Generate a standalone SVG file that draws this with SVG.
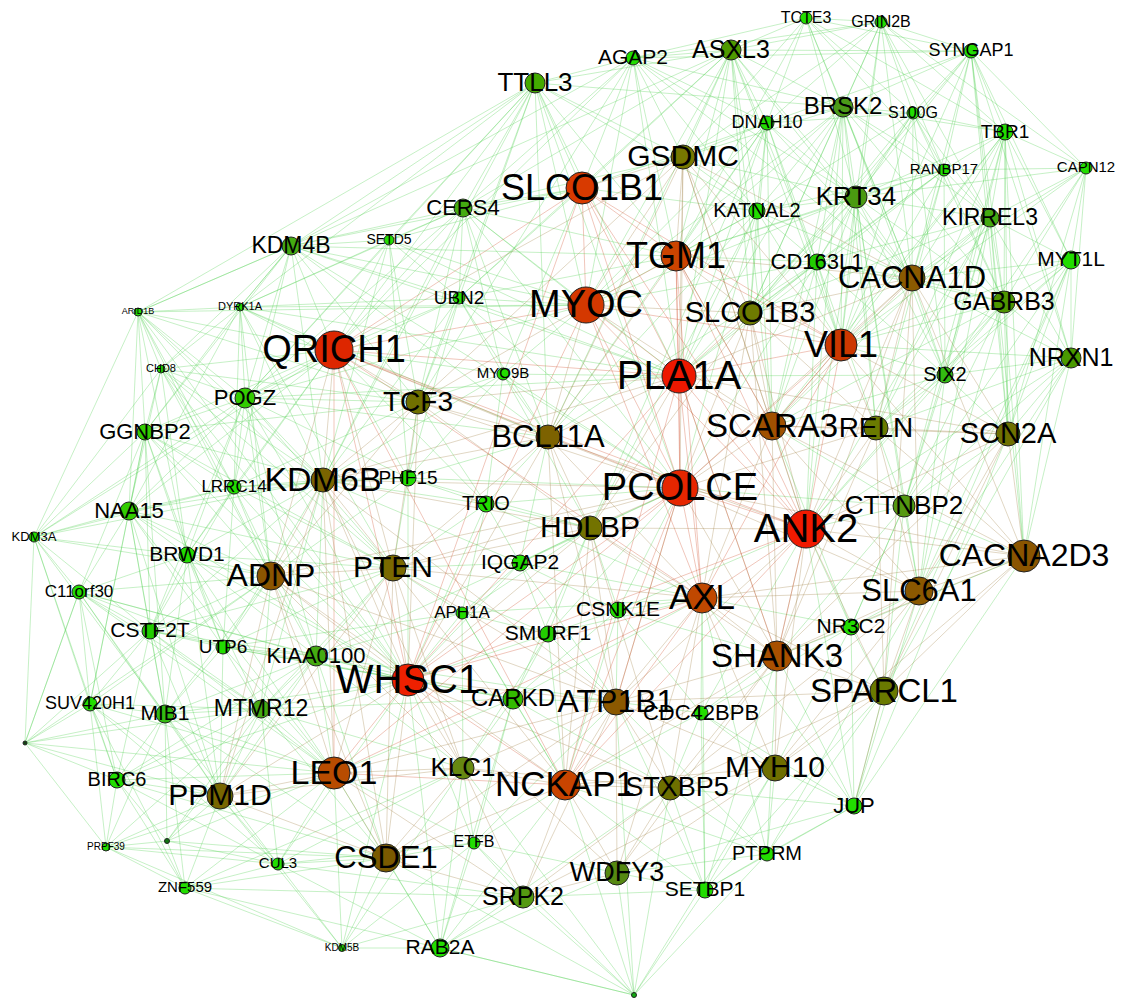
<svg xmlns="http://www.w3.org/2000/svg" width="1122" height="998" viewBox="0 0 1122 998">
<style>
.eg{fill:none;stroke:#4cd04c;stroke-opacity:.4;stroke-width:.8}
.eb{fill:none;stroke:#9a7a3a;stroke-opacity:.38;stroke-width:.8}
.er{fill:none;stroke:#d04a2a;stroke-opacity:.4;stroke-width:.8}
circle{stroke:#222;stroke-width:1}
text{font-family:"Liberation Sans",Arial,sans-serif;fill:#000;text-anchor:middle}
</style>
<rect width="1122" height="998" fill="#fff"/>
<g id="connectors">
<path class="eg" d="M881,22L806,18L731,50M971,51L806,18L843,107M767,123L806,18L1005,132M856,197L806,18L683,157M944,170L806,18L913,113M912,278L806,18L676,256M633,58L806,18
M971,51L881,22L731,50M843,107L881,22L913,113M1005,132L881,22L856,197M944,170L881,22L1086,168M912,278L881,22L841,345M750,313L881,22L683,157M990,218L881,22L767,123M633,58L881,22
M1005,132L971,51L913,113M843,107L971,51L990,218M1086,168L971,51L1071,260M944,170L971,51L856,197M1004,302L971,51L912,278M1071,358L971,51L1008,434M731,50L971,51L841,345M750,313L971,51L767,123
M535,83L633,58L731,50M683,157L633,58L582,188M676,256L633,58L586,305M843,107L633,58L767,123M757,211L633,58L463,208M856,197L633,58L912,278M971,51L633,58L291,246M334,350L633,58L679,376M418,402L633,58
M683,157L731,50L843,107M767,123L731,50L535,83M582,188L731,50L676,256M856,197L731,50L757,211M586,305L731,50L463,208M750,313L731,50L679,376M841,345L731,50L912,278M817,262L731,50L772,426M548,437L731,50L459,298M291,246L731,50
M463,208L535,83L582,188M683,157L535,83L586,305M676,256L535,83L291,246M334,350L535,83L389,240M459,298L535,83L418,402M679,376L535,83L548,437M240,307L535,83L138,312M245,398L535,83L757,211M843,107L535,83L680,488M323,480L535,83
M767,123L843,107L913,113M1005,132L843,107L856,197M757,211L843,107L683,157M676,256L843,107L817,262M912,278L843,107L750,313M841,345L843,107L944,170M990,218L843,107L1004,302M679,376L843,107L772,426M876,428L843,107L945,375M586,305L843,107L806,529
M1005,132L913,113L944,170M856,197L913,113L990,218M912,278L913,113L767,123M757,211L913,113L841,345M1004,302L913,113L817,262M750,313L913,113L945,375
M683,157L767,123L757,211M676,256L767,123L582,188M856,197L767,123L817,262M750,313L767,123L586,305M679,376L767,123L841,345M912,278L767,123L772,426M548,437L767,123L590,528
M944,170L1005,132L1086,168M990,218L1005,132L1071,260M856,197L1005,132L912,278M1004,302L1005,132L1071,358M945,375L1005,132L841,345M1008,434L1005,132L876,428M904,506L1005,132L772,426M1024,556L1005,132
M990,218L1086,168L1071,260M1004,302L1086,168L1071,358M944,170L1086,168L912,278M945,375L1086,168L1008,434M841,345L1086,168L856,197
M856,197L944,170L990,218M912,278L944,170L817,262M841,345L944,170L750,313M1004,302L944,170L945,375M676,256L944,170L757,211M679,376L944,170L876,428
M683,157L757,211L676,256M582,188L757,211L856,197M817,262L757,211L750,313M586,305L757,211L679,376M841,345L757,211L912,278M772,426L757,211L548,437M590,528L757,211L680,488
M817,262L856,197L912,278M990,218L856,197L676,256M683,157L856,197L750,313M841,345L856,197L1004,302M945,375L856,197L679,376M772,426L856,197L876,428M806,529L856,197L586,305M904,506L856,197L919,591
M1071,260L990,218L912,278M1004,302L990,218L1071,358M945,375L990,218L841,345M1008,434L990,218L876,428M817,262L990,218L750,313M904,506L990,218L1024,556M772,426L990,218L806,529M919,591L990,218
M1004,302L1071,260L1071,358M912,278L1071,260L945,375M1008,434L1071,260L841,345M876,428L1071,260L1024,556M904,506L1071,260L919,591M884,691L1071,260
M912,278L817,262L750,313M676,256L817,262L841,345M679,376L817,262L1004,302M945,375L817,262L772,426M876,428L817,262L806,529M680,488L817,262L548,437M586,305L817,262
M291,246L389,240L463,208M334,350L389,240L459,298M418,402L389,240L582,188M586,305L389,240L240,307M245,398L389,240L323,480M408,478L389,240L679,376
M582,188L463,208L291,246M334,350L463,208L459,298M586,305L463,208L676,256M418,402L463,208L548,437M679,376L463,208L323,480M245,398L463,208L240,307M680,488L463,208L503,374M683,157L463,208
M334,350L291,246L240,307M138,312L291,246L161,369M245,398L291,246L459,298M418,402L291,246L323,480M586,305L291,246L582,188M145,432L291,246L234,487M679,376L291,246L680,488M548,437L291,246L676,256
M240,307L138,312L161,369M245,398L138,312L145,432M334,350L138,312L291,246M234,487L138,312L129,511M323,480L138,312L418,402M34,537L138,312L271,576M393,568L138,312L408,680M187,555L138,312L586,305
M161,369L240,307L245,398M334,350L240,307L145,432M323,480L240,307L418,402M234,487L240,307L271,576M393,568L240,307L586,305M679,376L240,307L548,437M459,298L240,307L129,511M291,246L240,307
M334,350L459,298L586,305M582,188L459,298L418,402M503,374L459,298L548,437M679,376L459,298L676,256M323,480L459,298L245,398M680,488L459,298L408,478
M245,398L161,369L145,432M334,350L161,369L129,511M234,487L161,369L323,480M271,576L161,369L187,555M393,568L161,369L418,402M34,537L161,369L408,680
M418,402L503,374L548,437M679,376L503,374L586,305M334,350L503,374L408,478M486,504L503,374L590,528M680,488L503,374L323,480M582,188L503,374
M334,350L245,398L145,432M234,487L245,398L323,480M129,511L245,398L418,402M271,576L245,398L187,555M393,568L245,398L408,680M408,478L245,398L586,305M679,376L245,398L548,437M316,656L245,398L150,631M34,537L245,398
M129,511L145,432L234,487M34,537L145,432L187,555M334,350L145,432L323,480M271,576L145,432L79,592M150,631L145,432L393,568M418,402L145,432L408,680M223,647L145,432L165,714M90,704L145,432
M323,480L234,487L129,511M187,555L234,487L271,576M334,350L234,487L418,402M393,568L234,487L223,647M150,631L234,487L316,656M408,680L234,487L408,478
M34,537L129,511L187,555M79,592L129,511L150,631M271,576L129,511L323,480M334,350L129,511L223,647M165,714L129,511L90,704M393,568L129,511L408,680M334,773L129,511L220,796
M79,592L34,537L187,555M90,704L34,537L150,631M165,714L34,537L25,743M271,576L34,537L117,780M323,480L34,537L334,350M234,487L34,537
M271,576L187,555L79,592M150,631L187,555L223,647M323,480L187,555L393,568M408,680L187,555L165,714M261,709L187,555L316,656M334,350L187,555L334,773M220,796L187,555
M150,631L79,592L90,704M165,714L79,592L223,647M271,576L79,592L117,780M220,796L79,592L25,743M316,656L79,592L408,680M261,709L79,592L334,773
M223,647L150,631L165,714M271,576L150,631L261,709M90,704L150,631L117,780M220,796L150,631L316,656M408,680L150,631L334,773M323,480L150,631L393,568
M271,576L223,647L165,714M261,709L223,647L316,656M220,796L223,647L408,680M334,773L223,647L393,568M323,480L223,647L462,613M513,699L223,647
M165,714L90,704L117,780M25,743L90,704L220,796M261,709L90,704L106,847M271,576L90,704L334,773M278,864L90,704L185,888
M261,709L165,714L117,780M220,796L165,714L271,576M334,773L165,714L316,656M408,680L165,714L278,864M185,888L165,714L167,841M106,847L165,714L386,858
M117,780L25,743L165,714M220,796L25,743L261,709M106,847L25,743L150,631M79,592L25,743L334,773M271,576L25,743
M220,796L117,780L106,847M167,841L117,780L185,888M278,864L117,780L261,709M334,773L117,780L408,680M386,858L117,780L316,656
M220,796L106,847L167,841M185,888L106,847L278,864M261,709L106,847L334,773M342,948L106,847L386,858
M220,796L167,841L185,888M278,864L167,841L334,773M261,709L167,841L316,656M386,858L167,841
M220,796L185,888L278,864M386,858L185,888L334,773M342,948L185,888L440,948M463,768L185,888L523,897
M220,796L278,864L386,858M334,773L278,864L342,948M463,768L278,864L440,948M261,709L278,864L408,680M523,897L278,864L474,843
M386,858L342,948L440,948M334,773L342,948L463,768M523,897L342,948L474,843M220,796L342,948L408,680
M386,858L440,948L523,897M474,843L440,948L463,768M565,785L440,948L334,773M617,873L440,948L670,788M408,680L440,948L513,699M634,995L440,948
M386,858L474,843L523,897M463,768L474,843L565,785M334,773L474,843L408,680M617,873L474,843L513,699M616,702L474,843
M440,948L634,995L523,897M617,873L634,995L705,890M767,854L634,995L565,785M670,788L634,995L474,843M463,768L634,995L775,768M386,858L634,995L616,702
M617,873L705,890L670,788M767,854L705,890L775,768M565,785L705,890L523,897M854,806L705,890L616,702M777,656L705,890L884,691M702,598L705,890L701,713
M775,768L767,854L854,806M670,788L767,854L617,873M884,691L767,854L777,656M616,702L767,854L565,785M702,598L767,854L919,591
M775,768L854,806L884,691M777,656L854,806L670,788M851,627L854,806L919,591M806,529L854,806L702,598M1024,556L854,806L617,873M701,713L854,806L1008,434
M316,656L261,709L271,576M220,796L261,709L334,773M408,680L261,709L393,568M463,768L261,709L386,858M323,480L261,709L513,699
M271,576L316,656L393,568M408,680L316,656L334,773M323,480L316,656L462,613M513,699L316,656L463,768M386,858L316,656L220,796M680,488L316,656L616,702
M393,568L462,613L408,680M520,563L462,613L548,634M513,699L462,613L463,768M590,528L462,613L486,504M565,785L462,613L702,598
M590,528L520,563L680,488M486,504L520,563L548,437M393,568L520,563L548,634M618,610L520,563L702,598M616,702L520,563L408,680M323,480L520,563
M548,437L486,504L590,528M408,478L486,504L418,402M393,568L486,504L680,488M323,480L486,504L334,350M702,598L486,504L408,680
M323,480L408,478L418,402M393,568L408,478L334,350M271,576L408,478L548,437M408,680L408,478L680,488M590,528L408,478
M702,598L618,610L590,528M548,634L618,610L616,702M680,488L618,610L777,656M565,785L618,610L513,699M806,529L618,610L701,713
M513,699L548,634L616,702M590,528L548,634L702,598M408,680L548,634L565,785M463,768L548,634L393,568M680,488L548,634
M616,702L513,699L408,680M463,768L513,699L565,785M590,528L513,699L702,598M670,788L513,699L334,773
M616,702L701,713L702,598M777,656L701,713L670,788M775,768L701,713L565,785M806,529L701,713L851,627
M919,591L851,627L777,656M884,691L851,627L806,529M702,598L851,627L1024,556M775,768L851,627L904,506M772,426L851,627
M841,345L945,375L1004,302M1071,358L945,375L1008,434M876,428L945,375L912,278M772,426L945,375L904,506M806,529L945,375L919,591M679,376L945,375
M912,278L1004,302L1071,358M1008,434L1004,302L841,345M876,428L1004,302L1024,556M904,506L1004,302L919,591M806,529L1004,302L772,426
M1008,434L1071,358L1024,556M912,278L1071,358L876,428M841,345L1071,358L919,591M904,506L1071,358L884,691M806,529L1071,358
M806,529L904,506L1008,434M1024,556L904,506L919,591M876,428L904,506L772,426M777,656L904,506L884,691M851,627L904,506L680,488"/>
<path class="eb" d="M582,188L683,157L676,256M586,305L683,157L679,376M750,313L683,157L841,345M912,278L683,157L772,426M548,437L683,157L680,488M806,529L683,157L334,350M418,402L683,157
M676,256L750,313L679,376M841,345L750,313L912,278M772,426L750,313L876,428M806,529L750,313L680,488M586,305L750,313L702,598M777,656L750,313L590,528
M841,345L912,278L772,426M876,428L912,278L1008,434M806,529L912,278L1024,556M919,591L912,278L679,376M676,256L912,278L680,488M884,691L912,278L777,656
M334,350L418,402L586,305M679,376L418,402L548,437M323,480L418,402L393,568M680,488L418,402L408,680M271,576L418,402L590,528
M679,376L548,437L680,488M590,528L548,437L586,305M323,480L548,437L393,568M702,598L548,437L408,680M806,529L548,437L334,350M676,256L548,437L616,702M565,785L548,437
M334,350L323,480L271,576M393,568L323,480L408,680M334,773L323,480L680,488M679,376L323,480L590,528M616,702L323,480L220,796M463,768L323,480L386,858
M393,568L271,576L408,680M334,773L271,576L220,796M386,858L271,576L463,768M334,350L271,576L616,702M565,785L271,576L680,488
M408,680L393,568L334,773M590,528L393,568L680,488M702,598L393,568L616,702M463,768L393,568L565,785M334,350L393,568L386,858M220,796L393,568
M680,488L590,528L702,598M806,529L590,528L616,702M565,785L590,528L408,680M679,376L590,528L777,656M670,788L590,528
M679,376L772,426L841,345M806,529L772,426L680,488M876,428L772,426L1008,434M1024,556L772,426L919,591M777,656L772,426L702,598M676,256L772,426L586,305
M841,345L876,428L806,529M1008,434L876,428L1024,556M919,591L876,428L884,691M777,656L876,428L680,488
M806,529L1008,434L1024,556M919,591L1008,434L884,691M777,656L1008,434L841,345M679,376L1008,434
M806,529L1024,556L919,591M884,691L1024,556L777,656M775,768L1024,556L702,598M680,488L1024,556L841,345
M806,529L919,591L777,656M884,691L919,591L775,768M702,598L919,591L680,488M670,788L919,591
M806,529L777,656L702,598M616,702L777,656L775,768M670,788L777,656L565,785M884,691L777,656L680,488M617,873L777,656L679,376
M806,529L884,691L775,768M670,788L884,691L702,598M854,806L884,691L616,702
M670,788L775,768L565,785M616,702L775,768L702,598M806,529L775,768L617,873M523,897L775,768
M565,785L670,788L616,702M617,873L670,788L523,897M702,598L670,788L408,680M463,768L670,788
M565,785L616,702L702,598M408,680L616,702L463,768M680,488L616,702L806,529M334,773L616,702L617,873M523,897L616,702L386,858
M408,680L463,768L334,773M565,785L463,768L386,858M523,897L463,768L220,796
M334,773L220,796L386,858M408,680L220,796
M334,773L386,858L408,680M565,785L386,858L523,897
M565,785L617,873L523,897M702,598L617,873L408,680
M565,785L523,897L334,773"/>
<path class="er" d="M586,305L582,188L676,256M679,376L582,188L334,350M680,488L582,188L841,345M806,529L582,188L408,680
M586,305L676,256L679,376M841,345L676,256L680,488M806,529L676,256L702,598M772,426L676,256
M679,376L586,305L334,350M680,488L586,305L806,529M408,680L586,305L841,345M702,598L586,305
M679,376L334,350L680,488M408,680L334,350L806,529M334,773L334,350L702,598M565,785L334,350
M680,488L679,376L806,529M841,345L679,376L408,680M702,598L679,376L565,785M777,656L679,376
M806,529L841,345L680,488M702,598L841,345L772,426
M806,529L680,488L408,680M702,598L680,488L565,785M334,773L680,488L616,702
M702,598L806,529L408,680M565,785L806,529L777,656
M334,773L408,680L565,785M702,598L408,680
M565,785L702,598L334,773M334,773L565,785"/>
</g>
<g id="nodes">
<g id="n-TCTE3"><circle cx="806" cy="18" r="6" fill="#22dd00"/><text x="806" y="23" font-size="16">TCTE3</text></g>
<g id="n-GRIN2B"><circle cx="881" cy="22" r="6" fill="#22dd00"/><text x="881" y="27" font-size="16">GRIN2B</text></g>
<g id="n-SYNGAP1"><circle cx="971" cy="51" r="7" fill="#22dd00"/><text x="971" y="56" font-size="18">SYNGAP1</text></g>
<g id="n-AGAP2"><circle cx="633" cy="58" r="7" fill="#22dd00"/><text x="633" y="64" font-size="21">AGAP2</text></g>
<g id="n-ASXL3"><circle cx="731" cy="50" r="10" fill="#4f9a00"/><text x="731" y="58" font-size="25">ASXL3</text></g>
<g id="n-TTLL3"><circle cx="535" cy="83" r="10" fill="#44aa00"/><text x="535" y="91" font-size="26">TTLL3</text></g>
<g id="n-BRSK2"><circle cx="843" cy="107" r="10" fill="#4b9a18"/><text x="843" y="114" font-size="24">BRSK2</text></g>
<g id="n-S100G"><circle cx="913" cy="113" r="6" fill="#22dd00"/><text x="913" y="118" font-size="16">S100G</text></g>
<g id="n-DNAH10"><circle cx="767" cy="123" r="7" fill="#22dd00"/><text x="767" y="128" font-size="18">DNAH10</text></g>
<g id="n-TBR1"><circle cx="1005" cy="132" r="8" fill="#22dd00"/><text x="1005" y="138" font-size="19">TBR1</text></g>
<g id="n-CAPN12"><circle cx="1086" cy="168" r="6" fill="#22dd00"/><text x="1086" y="172" font-size="15">CAPN12</text></g>
<g id="n-RANBP17"><circle cx="944" cy="170" r="6" fill="#22dd00"/><text x="944" y="174" font-size="15">RANBP17</text></g>
<g id="n-GSDMC"><circle cx="683" cy="157" r="12" fill="#777700"/><text x="683" y="166" font-size="30">GSDMC</text></g>
<g id="n-SLCO1B1"><circle cx="582" cy="188" r="16" fill="#d83a00"/><text x="582" y="200" font-size="36">SLCO1B1</text></g>
<g id="n-CERS4"><circle cx="463" cy="208" r="9" fill="#44aa11"/><text x="463" y="215" font-size="22">CERS4</text></g>
<g id="n-KATNAL2"><circle cx="757" cy="211" r="8" fill="#22dd00"/><text x="757" y="217" font-size="20">KATNAL2</text></g>
<g id="n-KRT34"><circle cx="856" cy="197" r="11" fill="#4a9a10"/><text x="856" y="205" font-size="26">KRT34</text></g>
<g id="n-KIRREL3"><circle cx="990" cy="218" r="9" fill="#44aa11"/><text x="990" y="225" font-size="23">KIRREL3</text></g>
<g id="n-KDM4B"><circle cx="291" cy="246" r="9" fill="#44aa11"/><text x="291" y="253" font-size="23">KDM4B</text></g>
<g id="n-SETD5"><circle cx="389" cy="240" r="5" fill="#22dd00"/><text x="389" y="244" font-size="14">SETD5</text></g>
<g id="n-TGM1"><circle cx="676" cy="256" r="15" fill="#cc4400"/><text x="676" y="268" font-size="36">TGM1</text></g>
<g id="n-CD163L1"><circle cx="817" cy="262" r="8" fill="#22cc00"/><text x="817" y="269" font-size="22">CD163L1</text></g>
<g id="n-CACNA1D"><circle cx="912" cy="278" r="13" fill="#8a5a00"/><text x="912" y="288" font-size="31">CACNA1D</text></g>
<g id="n-MYT1L"><circle cx="1071" cy="260" r="9" fill="#22dd00"/><text x="1071" y="266" font-size="21">MYT1L</text></g>
<g id="n-ARID1B"><circle cx="138" cy="312" r="4" fill="#22dd00"/><text x="138" y="314" font-size="9">ARID1B</text></g>
<g id="n-DYRK1A"><circle cx="240" cy="307" r="4" fill="#22dd00"/><text x="240" y="310" font-size="11">DYRK1A</text></g>
<g id="n-UBN2"><circle cx="459" cy="298" r="6" fill="#22dd00"/><text x="459" y="304" font-size="19">UBN2</text></g>
<g id="n-MYOC"><circle cx="586" cy="305" r="18" fill="#d43800"/><text x="586" y="317" font-size="38">MYOC</text></g>
<g id="n-SLCO1B3"><circle cx="750" cy="313" r="12" fill="#6e7a00"/><text x="750" y="322" font-size="29">SLCO1B3</text></g>
<g id="n-GABRB3"><circle cx="1004" cy="302" r="11" fill="#4e9500"/><text x="1004" y="310" font-size="25">GABRB3</text></g>
<g id="n-QRICH1"><circle cx="334" cy="350" r="19" fill="#dd2600"/><text x="334" y="362" font-size="38">QRICH1</text></g>
<g id="n-CHD8"><circle cx="161" cy="369" r="4" fill="#22dd00"/><text x="161" y="372" font-size="11">CHD8</text></g>
<g id="n-MYO9B"><circle cx="503" cy="374" r="6" fill="#22dd00"/><text x="503" y="378" font-size="15">MYO9B</text></g>
<g id="n-PLA1A"><circle cx="679" cy="376" r="17" fill="#ee1800"/><text x="679" y="389" font-size="40">PLA1A</text></g>
<g id="n-VIL1"><circle cx="841" cy="345" r="16" fill="#cc3800"/><text x="841" y="357" font-size="36">VIL1</text></g>
<g id="n-SIX2"><circle cx="945" cy="375" r="8" fill="#33bb11"/><text x="945" y="381" font-size="20">SIX2</text></g>
<g id="n-NRXN1"><circle cx="1071" cy="358" r="10" fill="#4a9a00"/><text x="1071" y="366" font-size="25">NRXN1</text></g>
<g id="n-POGZ"><circle cx="245" cy="398" r="10" fill="#33cc00"/><text x="245" y="405" font-size="22">POGZ</text></g>
<g id="n-TCF3"><circle cx="418" cy="402" r="12" fill="#707000"/><text x="418" y="411" font-size="28">TCF3</text></g>
<g id="n-GGNBP2"><circle cx="145" cy="432" r="8" fill="#33cc00"/><text x="145" y="439" font-size="22">GGNBP2</text></g>
<g id="n-BCL11A"><circle cx="548" cy="437" r="12" fill="#7d6200"/><text x="548" y="447" font-size="31">BCL11A</text></g>
<g id="n-SCARA3"><circle cx="772" cy="426" r="14" fill="#a05000"/><text x="772" y="437" font-size="33">SCARA3</text></g>
<g id="n-RELN"><circle cx="876" cy="428" r="12" fill="#6a7a00"/><text x="876" y="437" font-size="28">RELN</text></g>
<g id="n-SCN2A"><circle cx="1008" cy="434" r="12" fill="#6e7000"/><text x="1008" y="443" font-size="29">SCN2A</text></g>
<g id="n-KDM6B"><circle cx="323" cy="480" r="12" fill="#7a6400"/><text x="323" y="491" font-size="34">KDM6B</text></g>
<g id="n-PHF15"><circle cx="408" cy="478" r="8" fill="#22dd00"/><text x="408" y="484" font-size="19">PHF15</text></g>
<g id="n-LRRC14"><circle cx="234" cy="487" r="7" fill="#22dd00"/><text x="234" y="492" font-size="17">LRRC14</text></g>
<g id="n-TRIO"><circle cx="486" cy="504" r="8" fill="#22dd00"/><text x="486" y="510" font-size="20">TRIO</text></g>
<g id="n-PCOLCE"><circle cx="680" cy="488" r="18" fill="#e62600"/><text x="680" y="500" font-size="38">PCOLCE</text></g>
<g id="n-HDLBP"><circle cx="590" cy="528" r="12" fill="#737300"/><text x="590" y="537" font-size="30">HDLBP</text></g>
<g id="n-ANK2"><circle cx="806" cy="529" r="19" fill="#f01a00"/><text x="806" y="542" font-size="40">ANK2</text></g>
<g id="n-CTTNBP2"><circle cx="904" cy="506" r="11" fill="#559911"/><text x="904" y="514" font-size="26">CTTNBP2</text></g>
<g id="n-NAA15"><circle cx="129" cy="511" r="9" fill="#33cc00"/><text x="129" y="518" font-size="22">NAA15</text></g>
<g id="n-KDM3A"><circle cx="34" cy="537" r="5" fill="#22dd00"/><text x="34" y="541" font-size="13">KDM3A</text></g>
<g id="n-BRWD1"><circle cx="187" cy="555" r="8" fill="#22dd00"/><text x="187" y="561" font-size="21">BRWD1</text></g>
<g id="n-CACNA2D3"><circle cx="1024" cy="556" r="16" fill="#8a5500"/><text x="1024" y="566" font-size="32">CACNA2D3</text></g>
<g id="n-ADNP"><circle cx="271" cy="576" r="14" fill="#8b5500"/><text x="271" y="586" font-size="32">ADNP</text></g>
<g id="n-PTEN"><circle cx="393" cy="568" r="13" fill="#7a6a00"/><text x="393" y="577" font-size="30">PTEN</text></g>
<g id="n-IQGAP2"><circle cx="520" cy="563" r="8" fill="#22dd00"/><text x="520" y="569" font-size="21">IQGAP2</text></g>
<g id="n-AXL"><circle cx="702" cy="598" r="15" fill="#c04800"/><text x="702" y="609" font-size="35">AXL</text></g>
<g id="n-SLC6A1"><circle cx="919" cy="591" r="14" fill="#8b5800"/><text x="919" y="601" font-size="31">SLC6A1</text></g>
<g id="n-C11orf30"><circle cx="79" cy="592" r="7" fill="#22dd00"/><text x="79" y="597" font-size="17">C11orf30</text></g>
<g id="n-APH1A"><circle cx="462" cy="613" r="6" fill="#22dd00"/><text x="462" y="618" font-size="17">APH1A</text></g>
<g id="n-CSNK1E"><circle cx="618" cy="610" r="8" fill="#22dd00"/><text x="618" y="616" font-size="21">CSNK1E</text></g>
<g id="n-NR3C2"><circle cx="851" cy="627" r="8" fill="#22dd00"/><text x="851" y="633" font-size="21">NR3C2</text></g>
<g id="n-CSTF2T"><circle cx="150" cy="631" r="8" fill="#22cc00"/><text x="150" y="637" font-size="21">CSTF2T</text></g>
<g id="n-UTP6"><circle cx="223" cy="647" r="7" fill="#22dd00"/><text x="223" y="653" font-size="19">UTP6</text></g>
<g id="n-SMURF1"><circle cx="548" cy="634" r="8" fill="#22cc00"/><text x="548" y="640" font-size="21">SMURF1</text></g>
<g id="n-KIAA0100"><circle cx="316" cy="656" r="10" fill="#44aa11"/><text x="316" y="663" font-size="22">KIAA0100</text></g>
<g id="n-SHANK3"><circle cx="777" cy="656" r="15" fill="#a85000"/><text x="777" y="667" font-size="33">SHANK3</text></g>
<g id="n-WHSC1"><circle cx="408" cy="680" r="16" fill="#ee2000"/><text x="408" y="693" font-size="40">WHSC1</text></g>
<g id="n-SPARCL1"><circle cx="884" cy="691" r="14" fill="#6a7a00"/><text x="884" y="702" font-size="33">SPARCL1</text></g>
<g id="n-SUV420H1"><circle cx="90" cy="704" r="7" fill="#22dd00"/><text x="90" y="709" font-size="18">SUV420H1</text></g>
<g id="n-MIB1"><circle cx="165" cy="714" r="9" fill="#33bb11"/><text x="165" y="720" font-size="21">MIB1</text></g>
<g id="n-MTMR12"><circle cx="261" cy="709" r="9" fill="#44aa11"/><text x="261" y="716" font-size="23">MTMR12</text></g>
<g id="n-CARKD"><circle cx="513" cy="699" r="10" fill="#33bb00"/><text x="513" y="706" font-size="24">CARKD</text></g>
<g id="n-ATP1B1"><circle cx="616" cy="702" r="13" fill="#8b5800"/><text x="616" y="712" font-size="32">ATP1B1</text></g>
<g id="n-CDC42BPB"><circle cx="701" cy="713" r="7" fill="#22dd00"/><text x="701" y="720" font-size="22">CDC42BPB</text></g>
<g id="n-KLC1"><circle cx="463" cy="768" r="11" fill="#668811"/><text x="463" y="776" font-size="26">KLC1</text></g>
<g id="n-LEO1"><circle cx="334" cy="773" r="16" fill="#b84c00"/><text x="334" y="784" font-size="34">LEO1</text></g>
<g id="n-NCKAP1"><circle cx="565" cy="785" r="15" fill="#c84400"/><text x="565" y="796" font-size="35">NCKAP1</text></g>
<g id="n-STXBP5"><circle cx="670" cy="788" r="12" fill="#6e7000"/><text x="677" y="796" font-size="27">STXBP5</text></g>
<g id="n-MYH10"><circle cx="775" cy="768" r="13" fill="#6e6e00"/><text x="775" y="777" font-size="30">MYH10</text></g>
<g id="n-PPM1D"><circle cx="220" cy="796" r="13" fill="#776600"/><text x="220" y="805" font-size="30">PPM1D</text></g>
<g id="n-BIRC6"><circle cx="117" cy="780" r="8" fill="#22dd00"/><text x="117" y="786" font-size="20">BIRC6</text></g>
<g id="n-JUP"><circle cx="854" cy="806" r="8" fill="#22dd00"/><text x="854" y="813" font-size="22">JUP</text></g>
<g id="n-ETFB"><circle cx="474" cy="843" r="6" fill="#22dd00"/><text x="474" y="847" font-size="16">ETFB</text></g>
<g id="n-PTPRM"><circle cx="767" cy="854" r="7" fill="#22dd00"/><text x="767" y="860" font-size="20">PTPRM</text></g>
<g id="n-CSDE1"><circle cx="386" cy="858" r="14" fill="#7a5a00"/><text x="386" y="868" font-size="31">CSDE1</text></g>
<g id="n-CUL3"><circle cx="278" cy="864" r="6" fill="#22dd00"/><text x="278" y="868" font-size="15">CUL3</text></g>
<g id="n-PRPF39"><circle cx="106" cy="847" r="4" fill="#22dd00"/><text x="106" y="850" font-size="10">PRPF39</text></g>
<g id="n-ZNF559"><circle cx="185" cy="888" r="6" fill="#22dd00"/><text x="185" y="892" font-size="15">ZNF559</text></g>
<g id="n-WDFY3"><circle cx="617" cy="873" r="12" fill="#558811"/><text x="617" y="881" font-size="27">WDFY3</text></g>
<g id="n-SRPK2"><circle cx="523" cy="897" r="11" fill="#559911"/><text x="523" y="905" font-size="25">SRPK2</text></g>
<g id="n-SETBP1"><circle cx="705" cy="890" r="8" fill="#22dd00"/><text x="705" y="896" font-size="21">SETBP1</text></g>
<g id="n-KDM5B"><circle cx="342" cy="948" r="3.5" fill="#22dd00"/><text x="342" y="951" font-size="10">KDM5B</text></g>
<g id="n-RAB2A"><circle cx="440" cy="948" r="9" fill="#22dd00"/><text x="440" y="954" font-size="21">RAB2A</text></g>
<g id="n-x1"><circle cx="167" cy="841" r="2.5" fill="#117711"/></g>
<g id="n-x2"><circle cx="25" cy="743" r="2" fill="#114411"/></g>
<g id="n-x3"><circle cx="634" cy="995" r="2.5" fill="#11aa11"/></g>
</g>
</svg>
